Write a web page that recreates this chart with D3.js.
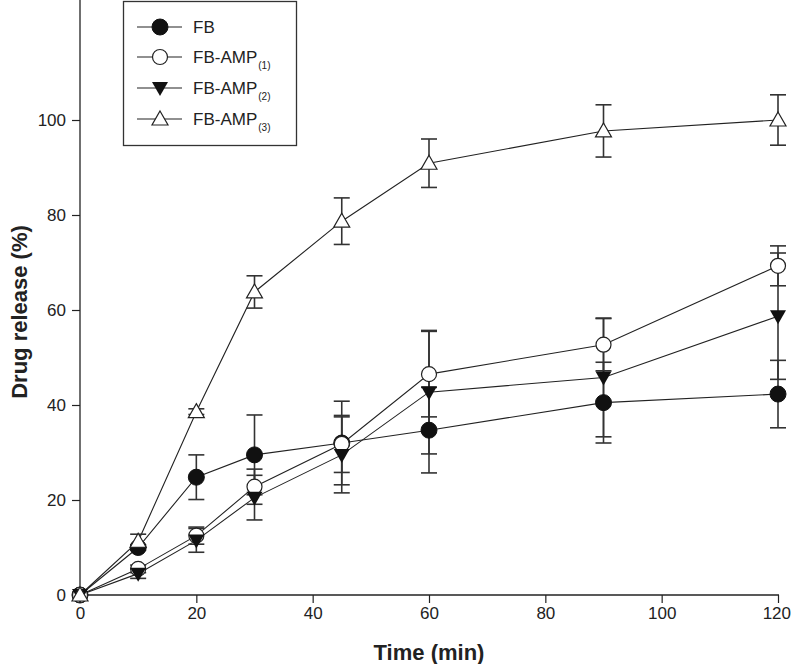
<!DOCTYPE html>
<html><head><meta charset="utf-8">
<script src="https://cdn.jsdelivr.net/npm/d3@7"></script>
<style>body{margin:0;background:#fff}svg{display:block}</style>
</head><body>
<svg id="c" width="791" height="664"></svg>
<script>
const times = [0, 10, 20, 30, 45, 60, 90, 120];
const seriesNames = ["FB", "FB-AMP", "FB-AMP", "FB-AMP"];
const seriesSubs = ["", "(1)", "(2)", "(3)"];
const fbValues   = [0, 10.0, 24.8, 29.5, 32.0, 34.7, 40.5, 42.3];
const fbErrors   = [0, 0.6, 4.7, 8.4, 8.8, 9.0, 8.5, 7.1];
const amp1Values = [0, 5.5, 12.5, 22.8, 31.8, 46.5, 52.7, 69.3];
const amp1Errors = [0, 0.8, 1.8, 3.7, 6.0, 9.0, 5.5, 4.2];
const amp2Values = [0, 4.5, 11.5, 20.5, 29.5, 42.7, 45.8, 58.7];
const amp2Errors = [0, 1.0, 2.5, 4.7, 8.0, 13.0, 12.5, 13.3];
const amp3Values = [0, 11.3, 38.6, 63.8, 78.7, 90.9, 97.7, 100.0];
const amp3Errors = [0, 1.5, 0.6, 3.4, 4.9, 5.1, 5.5, 5.3];
const xTicks = [0, 20, 40, 60, 80, 100, 120];
const yTicks = [0, 20, 40, 60, 80, 100];
const markerTypes = ["filledCircle", "openCircle", "filledDown", "openUp"];

const series = [
  {values: fbValues, errors: fbErrors},
  {values: amp1Values, errors: amp1Errors},
  {values: amp2Values, errors: amp2Errors},
  {values: amp3Values, errors: amp3Errors}
].map((s, i) => ({...s, name: seriesNames[i], sub: seriesSubs[i], marker: markerTypes[i]}));

const svg = d3.select("#c");
const font = "'Liberation Sans', Arial, sans-serif";
const x = d3.scaleLinear().domain([0, 120]).range([80, 778]);
const y = d3.scaleLinear().domain([0, 125]).range([595, 1.25]);

// axes
const xAxis = svg.append("g").attr("transform", "translate(0,595)")
  .call(d3.axisBottom(x).tickValues(xTicks).tickSize(8).tickPadding(4));
const yAxis = svg.append("g").attr("transform", "translate(80,0)")
  .call(d3.axisLeft(y).tickValues(yTicks).tickSize(8).tickPadding(6));
[xAxis, yAxis].forEach(a => {
  a.selectAll("path.domain").attr("stroke", "#222").attr("stroke-width", 1.3);
  a.selectAll(".tick line").attr("stroke", "#222").attr("stroke-width", 1.2);
  a.selectAll(".tick text").attr("font-family", font).attr("font-size", 17).attr("fill", "#222");
});
xAxis.select("path.domain").attr("d", "M80,0H779");
yAxis.select("path.domain").attr("d", "M0,595V0");
// keep the last x label inside the frame
xAxis.selectAll(".tick text").filter(d => d === 120).attr("text-anchor", "end").attr("x", 12.5);

svg.append("text").attr("x", 429).attr("y", 660).attr("text-anchor", "middle")
  .attr("font-family", font).attr("font-weight", "bold").attr("font-size", 22).attr("fill", "#222")
  .text("Time (min)");
svg.append("text").attr("transform", "translate(27,312) rotate(-90)").attr("text-anchor", "middle")
  .attr("font-family", font).attr("font-weight", "bold").attr("font-size", 22).attr("fill", "#222")
  .text("Drug release (%)");

const line = d3.line().x((d, i) => x(times[i])).y(d => y(d));

function drawMarker(g, type, cx, cy) {
  if (type === "filledCircle") {
    g.append("circle").attr("cx", cx).attr("cy", cy).attr("r", 8).attr("fill", "#111").attr("stroke", "#111");
  } else if (type === "openCircle") {
    g.append("circle").attr("cx", cx).attr("cy", cy).attr("r", 7.5).attr("fill", "#fff").attr("stroke", "#222").attr("stroke-width", 1.2);
  } else if (type === "filledDown") {
    g.append("path").attr("d", `M${cx-8},${cy-6}L${cx+8},${cy-6}L${cx},${cy+8}Z`).attr("fill", "#111");
  } else {
    g.append("path").attr("d", `M${cx},${cy-8}L${cx+8},${cy+6}L${cx-8},${cy+6}Z`).attr("fill", "#fff").attr("stroke", "#222").attr("stroke-width", 1.2);
  }
}

const plot = svg.append("g");
series.forEach(s => {
  plot.append("path").datum(s.values).attr("d", line).attr("fill", "none")
    .attr("stroke", "#222").attr("stroke-width", 1.1);
});
series.forEach(s => {
  s.values.forEach((v, i) => {
    const e = s.errors[i];
    if (e <= 0) return;
    const cx = x(times[i]);
    const g = plot.append("g").attr("stroke", "#333").attr("stroke-width", 1.6);
    g.append("line").attr("x1", cx).attr("x2", cx).attr("y1", y(v - e)).attr("y2", y(v + e));
    g.append("line").attr("x1", cx - 8).attr("x2", cx + 8).attr("y1", y(v + e)).attr("y2", y(v + e));
    g.append("line").attr("x1", cx - 8).attr("x2", cx + 8).attr("y1", y(v - e)).attr("y2", y(v - e));
  });
});
series.forEach(s => {
  const g = plot.append("g");
  s.values.forEach((v, i) => drawMarker(g, s.marker, x(times[i]), y(v)));
});

// legend
const lg = svg.append("g");
lg.append("rect").attr("x", 123.5).attr("y", 1.5).attr("width", 173).attr("height", 144)
  .attr("fill", "#fff").attr("stroke", "#333").attr("stroke-width", 1.3);
const legY = [27, 57, 88, 119];
series.forEach((s, i) => {
  const ly = legY[i];
  lg.append("line").attr("x1", 137).attr("x2", 182).attr("y1", ly).attr("y2", ly).attr("stroke", "#222").attr("stroke-width", 1.1);
  drawMarker(lg, s.marker, 160, ly);
  const t = lg.append("text").attr("x", 193).attr("y", ly + 6).attr("font-family", font)
    .attr("font-size", 17).attr("fill", "#222");
  t.append("tspan").text(s.name);
  if (s.sub) t.append("tspan").attr("font-size", 10).attr("dy", 6).attr("dx", 1).text(s.sub);
});
</script>
</body></html>
